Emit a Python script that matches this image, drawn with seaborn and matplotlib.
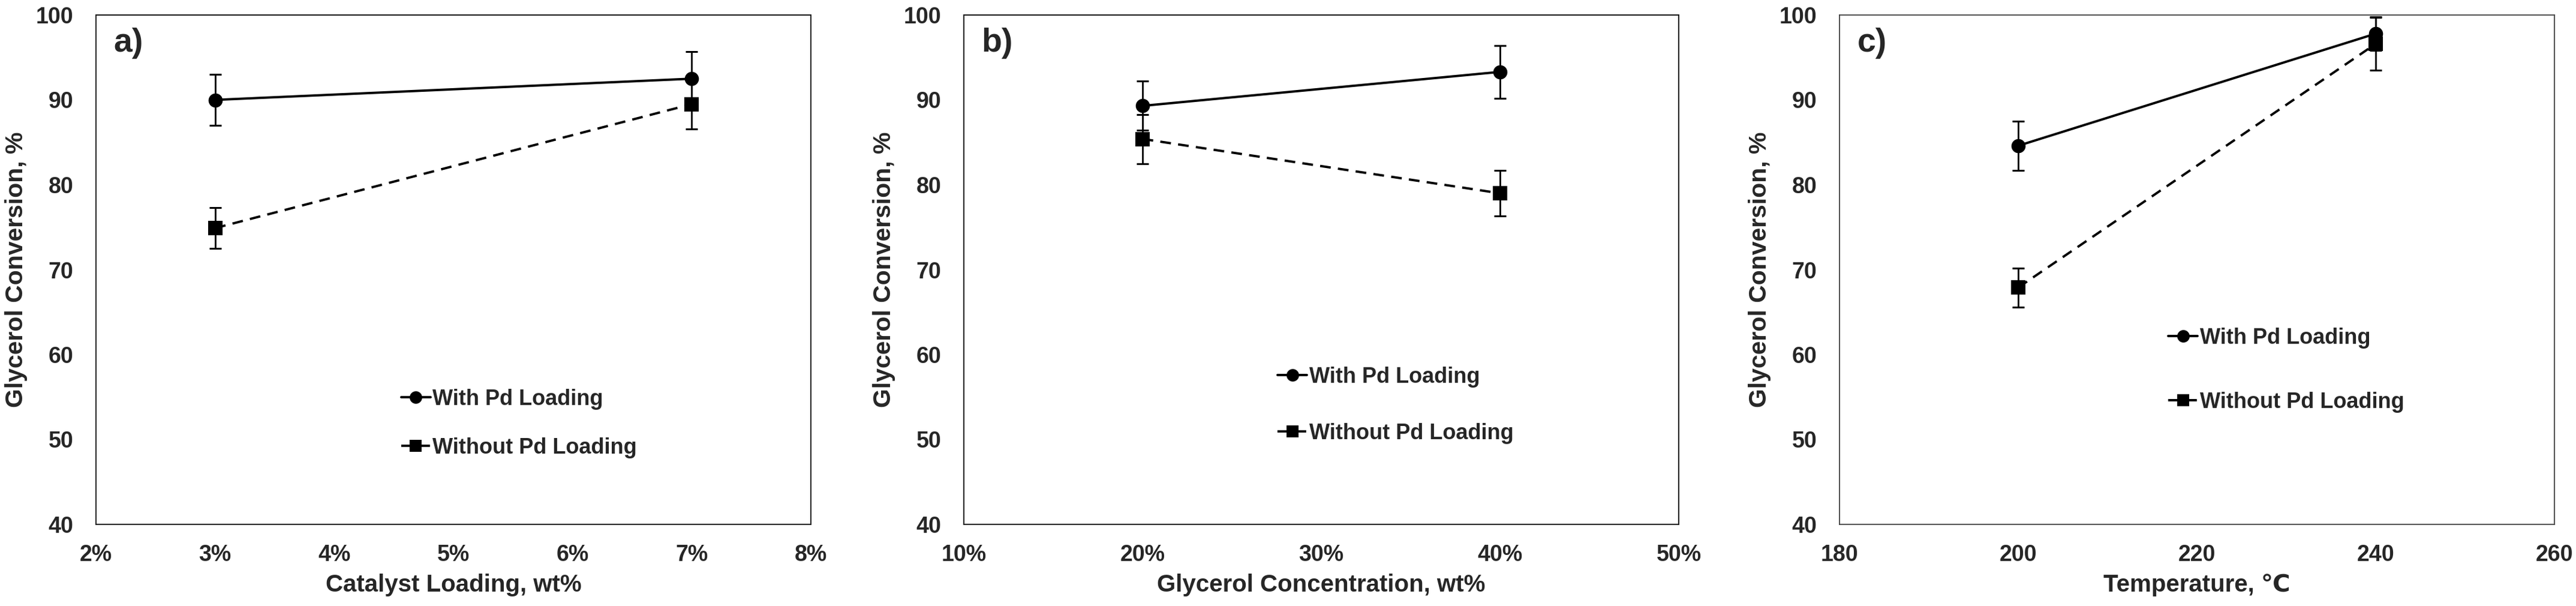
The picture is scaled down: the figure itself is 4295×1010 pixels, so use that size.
import pandas as pd
import matplotlib
matplotlib.use("Agg")
import matplotlib.pyplot as plt
import seaborn as sns
from matplotlib.ticker import FuncFormatter

# panel a: catalyst loading
cat_x = [3, 7]
cat_with = [90.0, 92.5]
cat_with_err = [3.0, 3.2]
cat_without = [74.9, 89.5]
cat_without_err = [2.4, 2.9]

# panel b: glycerol concentration
gly_x = [20, 40]
gly_with = [89.3, 93.3]
gly_with_err = [2.9, 3.1]
gly_without = [85.4, 79.0]
gly_without_err = [2.9, 2.7]

# panel c: temperature
temp_x = [200, 240]
temp_with = [84.6, 97.8]
temp_with_err = [2.9, 2.0]
temp_without = [67.9, 96.6]
temp_without_err = [2.3, 3.1]

series_names = ["With Pd Loading", "Without Pd Loading"]

sns.set_style("white")
plt.rcParams['font.family'] = ['Liberation Sans', 'DejaVu Sans', 'Noto Sans CJK SC']
plt.rcParams['font.weight'] = 'bold'
plt.rcParams['axes.labelweight'] = 'bold'

fig = plt.figure(figsize=(42.95, 10.10), dpi=100)

panels = [
    dict(left=160, x=cat_x, w=cat_with, we=cat_with_err, wo=cat_without, woe=cat_without_err,
         xlim=(2, 8), xticks=range(2, 9), pct=True, xlabel="Catalyst Loading, wt%",
         tag="a)", leg=(0.427, 0.198), spacing=1.28, spine='black'),
    dict(left=1607, x=gly_x, w=gly_with, we=gly_with_err, wo=gly_without, woe=gly_without_err,
         xlim=(10, 50), xticks=range(10, 51, 10), pct=True, xlabel="Glycerol Concentration, wt%",
         tag="b)", leg=(0.439, 0.234), spacing=1.64, spine='black'),
    dict(left=3067, x=temp_x, w=temp_with, we=temp_with_err, wo=temp_without, woe=temp_without_err,
         xlim=(180, 260), xticks=range(180, 261, 20), pct=False, xlabel="Temperature, \u2103",
         tag="c)", leg=(0.46, 0.303), spacing=2.0, spine='#404040'),
]

W, H = 4295, 1010
for p in panels:
    ax = fig.add_axes([p['left'] / W, 136 / H, 1192 / W, 849 / H])
    df = pd.DataFrame({
        'x': list(p['x']) * 2,
        'y': p['w'] + p['wo'],
        'err': p['we'] + p['woe'],
        'series': [series_names[0]] * 2 + [series_names[1]] * 2,
    })
    sns.lineplot(data=df, x='x', y='y', style='series', ax=ax, color='black',
                 markers={series_names[0]: 'o', series_names[1]: 's'},
                 dashes={series_names[0]: '', series_names[1]: (4.6, 3.1)},
                 markersize=17, linewidth=2.8, markeredgewidth=0)
    for name in series_names:
        sub = df[df['series'] == name]
        ax.errorbar(sub['x'], sub['y'], yerr=sub['err'], fmt='none', ecolor='black',
                    elinewidth=2.0, capsize=7, capthick=2.2, zorder=3)

    ax.set_xlim(*p['xlim'])
    ax.set_ylim(40, 100)
    ax.set_xticks(list(p['xticks']))
    ax.set_yticks(range(40, 101, 10))
    if p['pct']:
        ax.xaxis.set_major_formatter(FuncFormatter(lambda v, pos: f"{v:.0f}%"))
    ax.tick_params(axis='x', length=0, pad=24, labelsize=27)
    ax.tick_params(axis='y', length=0, pad=27, labelsize=27)
    for lab in ax.get_xticklabels() + ax.get_yticklabels():
        lab.set_fontweight('bold')
    ax.set_xlabel(p['xlabel'], fontsize=29, fontweight='bold', labelpad=9)
    ax.set_ylabel("Glycerol Conversion, %", fontsize=29.5, fontweight='bold', labelpad=10)
    for s in ax.spines.values():
        s.set_visible(True)
        s.set_color(p['spine'])
        s.set_linewidth(1.3)

    ax.text(0.025, 0.975, p['tag'], transform=ax.transAxes, fontsize=40,
            fontweight='bold', va='top', ha='left')

    leg = ax.legend(loc='center left', bbox_to_anchor=p['leg'], frameon=False,
                    fontsize=26, handlelength=1.35, handletextpad=0.1,
                    labelspacing=p['spacing'], borderpad=0, borderaxespad=0)
    for t in leg.get_texts():
        t.set_fontweight('bold')
    for h in leg.legend_handles:
        h.set_markersize(15)

fig.savefig("out.png", dpi=100)
